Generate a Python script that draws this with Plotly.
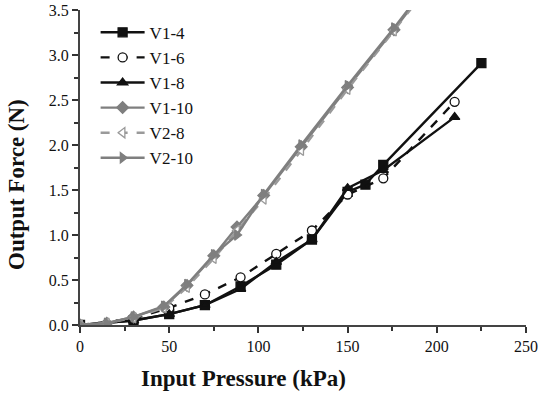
import plotly.graph_objects as go

# Data
x_v14 = [0, 30, 50, 70, 90, 110, 130, 150, 160, 170, 225]
y_v14 = [0.0, 0.05, 0.12, 0.22, 0.43, 0.67, 0.95, 1.48, 1.56, 1.78, 2.91]

x_v16 = [0, 30, 50, 70, 90, 110, 130, 150, 170, 210]
y_v16 = [0.0, 0.07, 0.19, 0.34, 0.53, 0.79, 1.05, 1.45, 1.63, 2.48]

x_v18 = [0, 30, 50, 70, 90, 110, 130, 150, 170, 210]
y_v18 = [0.0, 0.05, 0.12, 0.22, 0.40, 0.70, 0.95, 1.52, 1.72, 2.31]

x_v110 = [0, 15, 30, 47, 60, 75, 88, 103, 124, 150, 176, 200]
y_v110 = [0.0, 0.02, 0.09, 0.20, 0.44, 0.77, 1.09, 1.44, 1.98, 2.64, 3.28, 3.90]

x_v28 = [0, 15, 30, 47, 60, 75, 88, 103, 124, 150, 176, 200]
y_v28 = [0.0, 0.02, 0.08, 0.19, 0.42, 0.74, 1.05, 1.40, 1.94, 2.62, 3.27, 3.88]

x_v210 = [0, 15, 30, 47, 60, 75, 88, 103, 124, 150, 176, 200]
y_v210 = [0.0, 0.02, 0.09, 0.21, 0.45, 0.78, 1.00, 1.45, 2.00, 2.66, 3.30, 3.92]

x_ticks = [0, 50, 100, 150, 200, 250]
y_ticks = [0.0, 0.5, 1.0, 1.5, 2.0, 2.5, 3.0, 3.5]

x_title = "Input Pressure (kPa)"
y_title = "Output Force (N)"

BLACK = "#111111"
GREY = "#7f7f7f"
LGREY = "#9a9a9a"
WHITE = "#ffffff"

series = [
    ("V1-4", x_v14, y_v14, BLACK, "solid", "square", BLACK),
    ("V1-6", x_v16, y_v16, BLACK, "dash", "circle", WHITE),
    ("V1-8", x_v18, y_v18, BLACK, "solid", "triangle-up", BLACK),
    ("V1-10", x_v110, y_v110, GREY, "solid", "diamond", GREY),
    ("V2-8", x_v28, y_v28, LGREY, "dash", "triangle-left", WHITE),
    ("V2-10", x_v210, y_v210, GREY, "solid", "triangle-right", GREY),
]

fig = go.Figure()
for name, xs, ys, col, dash, sym, fill in series:
    fig.add_trace(go.Scatter(
        x=xs, y=ys, name=name, mode="lines+markers",
        line=dict(color=col, width=2.4, dash=dash),
        marker=dict(symbol=sym, size=9, color=fill, line=dict(color=col, width=1.3)),
    ))

font_family = "Liberation Serif, Times New Roman, serif"
fig.update_layout(
    width=544, height=394,
    margin=dict(l=80, r=18, t=10, b=69, autoexpand=False),
    paper_bgcolor="white", plot_bgcolor="white",
    font=dict(family=font_family, size=16, color="#111111"),
    showlegend=True,
    legend=dict(
        x=0.035, y=0.985, xanchor="left", yanchor="top",
        bgcolor="rgba(0,0,0,0)", font=dict(size=17, family=font_family),
        itemwidth=44, tracegroupgap=0,
    ),
    xaxis=dict(
        range=[0, 250], tickvals=x_ticks, ticktext=[str(v) for v in x_ticks],
        automargin=False,
        showgrid=False, zeroline=False, showline=True, linecolor="#444444", linewidth=2,
        ticks="outside", ticklen=6, tickwidth=1.5, tickcolor="#333333",
        minor=dict(dtick=25, ticks="outside", ticklen=4, tickwidth=1.5, tickcolor="#333333"),
        tickfont=dict(size=16, family=font_family),
    ),
    yaxis=dict(
        range=[0, 3.5], tickvals=y_ticks, ticktext=["%.1f" % v for v in y_ticks],
        automargin=False,
        showgrid=False, zeroline=False, showline=True, linecolor="#444444", linewidth=2,
        ticks="outside", ticklen=6, tickwidth=1.5, tickcolor="#333333",
        minor=dict(dtick=0.25, ticks="outside", ticklen=4, tickwidth=1.5, tickcolor="#333333"),
        tickfont=dict(size=16, family=font_family),
    ),
    annotations=[
        dict(text="<b>%s</b>" % x_title, xref="paper", yref="paper",
             x=(243 - 80) / 446, y=-(378 - 325) / 315, xanchor="center", yanchor="middle",
             showarrow=False, font=dict(size=23, family=font_family, color="#111111")),
        dict(text="<b>%s</b>" % y_title, xref="paper", yref="paper",
             x=-(80 - 16) / 446, y=(325 - 185) / 315, xanchor="center", yanchor="middle",
             textangle=-90, showarrow=False,
             font=dict(size=23, family=font_family, color="#111111")),
    ],
)

fig.write_html("out.html", config={"displayModeBar": False},
               post_script="document.body.style.margin='0';document.body.style.padding='0';")
